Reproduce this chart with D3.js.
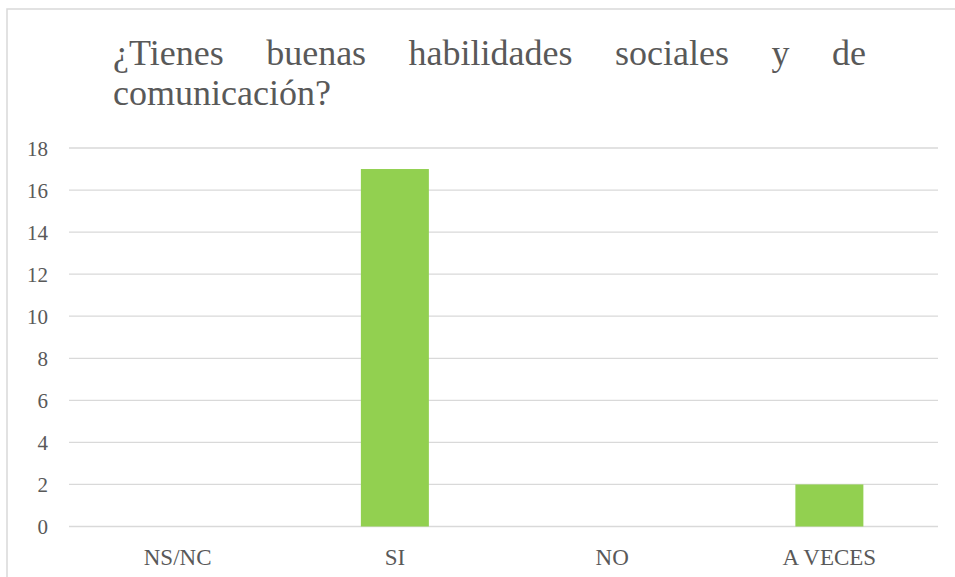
<!DOCTYPE html>
<html><head><meta charset="utf-8">
<script src="https://cdn.jsdelivr.net/npm/d3@7/dist/d3.min.js"></script>
<style>
body{margin:0;background:#fff;}
svg{display:block;}
svg text{font-family:"Liberation Serif","Times New Roman",Times,serif;}
</style>
</head><body>
<script>
const categories = ["NS/NC", "SI", "NO", "A VECES"];
const values = [0, 17, 0, 2];
const yTicks = [0, 2, 4, 6, 8, 10, 12, 14, 16, 18];
const titleLine1 = ["¿Tienes", "buenas", "habilidades", "sociales", "y", "de"];
const titleLine2 = "comunicación?";

const W = 955, H = 577;
const textColor = "#595959";
const svg = d3.select("body").append("svg").attr("width", W).attr("height", H);

// chart frame (extends beyond viewport)
svg.append("rect").attr("x", 7).attr("y", 9).attr("width", 1000).attr("height", 700)
  .attr("fill", "#fff").attr("stroke", "#d9d9d9").attr("stroke-width", 1.5);

const plot = {left: 69, right: 938, top: 148, bottom: 526.5};
const x = d3.scaleBand().domain(categories).range([plot.left, plot.right]).paddingInner(0.687).paddingOuter(0.3435);
const y = d3.scaleLinear().domain([0, 18]).range([plot.bottom, plot.top]);

// gridlines
svg.append("g").selectAll("line").data(yTicks).join("line")
  .attr("x1", plot.left).attr("x2", plot.right)
  .attr("y1", d => y(d)).attr("y2", d => y(d))
  .attr("stroke", "#d9d9d9").attr("stroke-width", 1.3);

// y axis labels
const yAxis = d3.axisLeft(y).tickValues(yTicks).tickSize(0).tickPadding(0);
const gy = svg.append("g").attr("transform", `translate(48,0)`).call(yAxis);
gy.select(".domain").remove();
gy.attr("font-family", null);
gy.selectAll("text").style("font-size", "21px").attr("fill", textColor).attr("dy", "0.35em");

// bars
svg.append("g").selectAll("rect").data(values).join("rect")
  .attr("x", (d, i) => x(categories[i]))
  .attr("width", x.bandwidth())
  .attr("y", d => y(d))
  .attr("height", d => y(0) - y(d))
  .attr("fill", "#92d050");

// x axis labels
const xAxis = d3.axisBottom(x).tickSize(0).tickPadding(0);
const gx = svg.append("g").attr("transform", `translate(0,${plot.bottom})`).call(xAxis);
gx.select(".domain").remove();
gx.attr("font-family", null);
gx.selectAll("text").style("font-size", "23px").attr("fill", textColor)
  .attr("dy", null).attr("y", 38.5);

// title (justified first line)
const tLeft = 113, tRight = 866;
const tg = svg.append("g").attr("fill", textColor).style("font-size", "36px");
const words = tg.selectAll("text.w").data(titleLine1).join("text").attr("class", "w")
  .attr("y", 65).text(d => d);
const widths = [];
words.each(function() { widths.push(this.getComputedTextLength()); });
const gap = (tRight - tLeft - d3.sum(widths)) / (titleLine1.length - 1);
let cx = tLeft;
words.attr("x", (d, i) => { const p = cx; cx += widths[i] + gap; return p; });
tg.append("text").attr("x", tLeft).attr("y", 105).text(titleLine2);
</script>
</body></html>
